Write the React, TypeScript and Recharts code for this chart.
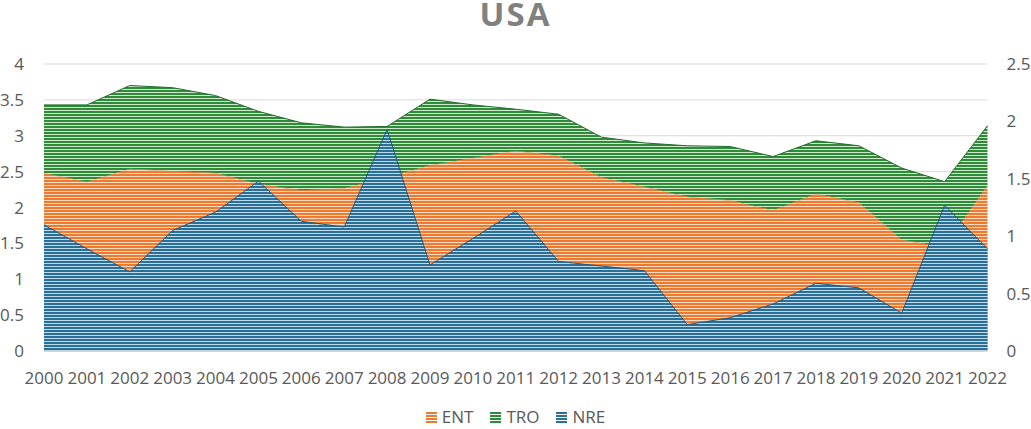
import React from "react";
import { AreaChart, Area, XAxis, YAxis, CartesianGrid, Legend } from "recharts";

const years = [
  "2000", "2001", "2002", "2003", "2004", "2005", "2006", "2007", "2008", "2009", "2010", "2011",
  "2012", "2013", "2014", "2015", "2016", "2017", "2018", "2019", "2020", "2021", "2022",
];
// left axis, stacked
const ent = [2.48, 2.36, 2.54, 2.51, 2.48, 2.33, 2.24, 2.27, 2.42, 2.59, 2.69, 2.79, 2.72, 2.42, 2.29, 2.15, 2.1, 1.96, 2.19, 2.07, 1.55, 1.45, 2.31];
const tro = [0.95, 1.07, 1.16, 1.16, 1.08, 1.01, 0.94, 0.85, 0.71, 0.92, 0.74, 0.58, 0.58, 0.56, 0.61, 0.71, 0.75, 0.75, 0.74, 0.79, 1.0, 0.91, 0.83];
// right axis
const nre = [1.1, 0.89, 0.69, 1.05, 1.21, 1.48, 1.13, 1.08, 1.93, 0.75, 0.98, 1.22, 0.78, 0.74, 0.7, 0.23, 0.29, 0.41, 0.59, 0.55, 0.33, 1.27, 0.89];

const leftTicks = [0, 0.5, 1, 1.5, 2, 2.5, 3, 3.5, 4];
const rightTicks = [0, 0.5, 1, 1.5, 2, 2.5];

const data = years.map((year, i) => ({ year, ENT: ent[i], TRO: tro[i], NRE: nre[i] }));

const legendItems = [
  { name: "ENT", color: "#ee7a30" },
  { name: "TRO", color: "#2f8a3a" },
  { name: "NRE", color: "#2b6e98" },
];

const font = "'Open Sans', 'Liberation Sans', sans-serif";

function StripeLegend() {
  return (
    <div
      style={{
        display: "flex",
        justifyContent: "center",
        gap: 17,
        fontFamily: font,
        fontSize: 17,
        lineHeight: "24px",
        height: 24,
        color: "#595959",
      }}
    >
      {legendItems.map((it) => (
        <div key={it.name} style={{ display: "flex", alignItems: "center", gap: 5 }}>
          <span
            style={{
              width: 11,
              height: 11,
              display: "inline-block",
              background: `repeating-linear-gradient(to bottom, ${it.color} 0px, ${it.color} 2px, #ffffff88 2px, #ffffff88 3px)`,
            }}
          />
          <span>{it.name}</span>
        </div>
      ))}
    </div>
  );
}

export default function App() {
  const tickStyle = { fontSize: 17, fill: "#595959", fontFamily: font };
  return (
    <div style={{ position: "absolute", left: 0, top: 0, width: 1031, height: 429, background: "#fff" }}>
      <div
        style={{
          position: "absolute",
          top: 0,
          left: 0,
          width: 1031,
          textAlign: "center",
          fontFamily: font,
          fontWeight: 700,
          fontSize: 33,
          lineHeight: "28px",
          letterSpacing: 2,
          color: "#808080",
        }}
      >
        USA
      </div>
      <AreaChart width={1031} height={429} data={data} margin={{ top: 64, right: 0, bottom: 0, left: 0 }}>
        <defs>
          <pattern id="pEnt" width="4" height="3" patternUnits="userSpaceOnUse">
            <rect width="4" height="3" fill="#ee7a30" />
            <rect y="2" width="4" height="1" fill="#fbd9c3" />
          </pattern>
          <pattern id="pTro" width="4" height="3" patternUnits="userSpaceOnUse">
            <rect width="4" height="3" fill="#2f8a3a" />
            <rect y="2" width="4" height="1" fill="#cfeacb" />
          </pattern>
          <pattern id="pNre" width="4" height="3" patternUnits="userSpaceOnUse">
            <rect width="4" height="3" fill="#2b6e98" />
            <rect y="2" width="4" height="1" fill="#bcdcee" />
          </pattern>
        </defs>
        <CartesianGrid yAxisId="left" vertical={false} stroke="#d9d9d9" />
        <XAxis
          dataKey="year"
          height={54}
          tick={tickStyle}
          tickLine={false}
          axisLine={{ stroke: "#bfbfbf" }}
          tickMargin={15}
          interval={0}
        />
        <YAxis
          yAxisId="left"
          orientation="left"
          width={44}
          domain={[0, 4]}
          ticks={leftTicks}
          tick={tickStyle}
          tickLine={false}
          axisLine={false}
          tickMargin={14}
        />
        <YAxis
          yAxisId="right"
          orientation="right"
          width={43.5}
          domain={[0, 2.5]}
          ticks={rightTicks}
          tick={{ ...tickStyle, textAnchor: "start" }}
          tickLine={false}
          axisLine={false}
          tickMargin={13}
        />
        <Legend verticalAlign="bottom" height={24} wrapperStyle={{ bottom: 0 }} content={() => <StripeLegend />} />
        <Area
          yAxisId="left"
          stackId="a"
          type="linear"
          dataKey="ENT"
          name="ENT"
          fill="url(#pEnt)"
          fillOpacity={1}
          stroke="#e06a20"
          strokeWidth={0.5}
          isAnimationActive={false}
        />
        <Area
          yAxisId="left"
          stackId="a"
          type="linear"
          dataKey="TRO"
          name="TRO"
          fill="url(#pTro)"
          fillOpacity={1}
          stroke="#1e6b2a"
          strokeWidth={1}
          isAnimationActive={false}
        />
        <Area
          yAxisId="right"
          type="linear"
          dataKey="NRE"
          name="NRE"
          fill="url(#pNre)"
          fillOpacity={1}
          stroke="#1f5a80"
          strokeWidth={1}
          isAnimationActive={false}
        />
      </AreaChart>
    </div>
  );
}
